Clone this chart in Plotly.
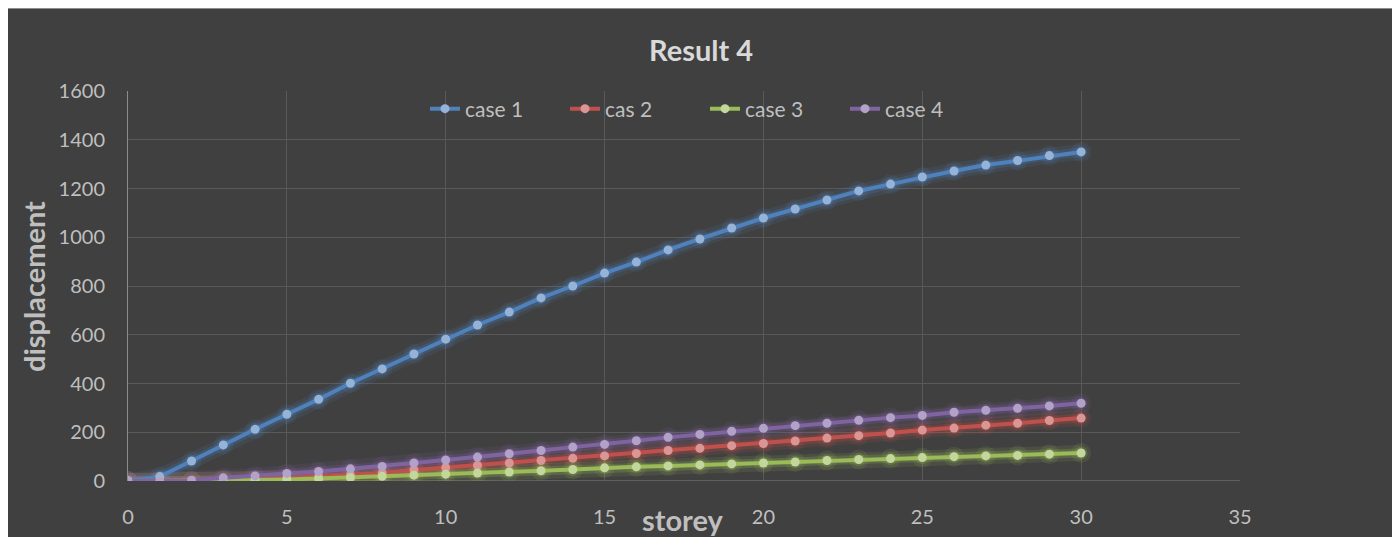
import plotly.graph_objects as go

storey = list(range(0, 31))

case1 = [0, 18, 82, 148, 212, 274, 335, 401, 460, 521, 582, 640, 693, 751, 800, 853,
         898, 948, 993, 1038, 1079, 1116, 1153, 1190, 1218, 1247, 1272, 1296, 1315, 1335, 1350]
case2 = [0, 0, 1, 3, 6, 12, 18, 25, 33, 45, 55, 64, 74, 84, 93, 103,
         113, 125, 134, 145, 154, 164, 176, 186, 197, 209, 217, 229, 237, 248, 258]
case3 = [0, 0, 0, 2, 4, 6, 10, 14, 19, 24, 28, 33, 37, 42, 47, 54,
         58, 62, 66, 70, 74, 78, 84, 88, 92, 96, 100, 103, 105, 110, 115]
case4 = [0, 0, 2, 13, 21, 31, 39, 50, 60, 74, 86, 98, 112, 125, 139, 150,
         165, 179, 191, 204, 216, 227, 237, 249, 260, 269, 282, 290, 298, 308, 319]

names = ["case 1", "cas 2", "case 3", "case 4"]
series = [case1, case2, case3, case4]
line_colors = ["#4F81BD", "#C0504D", "#9BBB59", "#8064A2"]
glow_colors = ["rgba(79,129,189,0.22)", "rgba(192,80,77,0.22)",
               "rgba(155,187,89,0.22)", "rgba(128,100,162,0.22)"]
glow2_colors = ["rgba(79,129,189,0.12)", "rgba(192,80,77,0.12)",
                "rgba(155,187,89,0.12)", "rgba(128,100,162,0.12)"]
marker_colors = ["#95B3D7", "#D99694", "#C3D69B", "#B3A2C7"]

x_ticks = [0, 5, 10, 15, 20, 25, 30, 35]
y_ticks = [0, 200, 400, 600, 800, 1000, 1200, 1400, 1600]

FONT = "Lato, 'Open Sans', sans-serif"
TXT = "#BFBFBF"
BG = "#404040"

fig = go.Figure()

# glow layers
for ys, gc, gc2 in zip(series, glow_colors, glow2_colors):
    fig.add_trace(go.Scatter(
        x=storey, y=ys, mode="lines+markers", showlegend=False, hoverinfo="skip",
        line=dict(color=gc2, width=16),
        marker=dict(size=20, color=gc2),
    ))
    fig.add_trace(go.Scatter(
        x=storey, y=ys, mode="lines+markers", showlegend=False, hoverinfo="skip",
        line=dict(color=gc, width=9),
        marker=dict(size=13, color=gc),
    ))

for name, ys, lc, mc in zip(names, series, line_colors, marker_colors):
    fig.add_trace(go.Scatter(
        x=storey, y=ys, mode="lines+markers", name=name,
        line=dict(color=lc, width=4),
        marker=dict(size=9, color=mc, line=dict(width=0)),
    ))

# page body has an 8px margin: figure coords = reference coords - 8
OFF = 8
W, H = 1400, 537
L, T = 128 - OFF, 91 - OFF
pw, ph = 1112, 390
R = W - L - pw
B = H - T - ph

def px_x(px):
    return (px - OFF - L) / pw

def px_y(py):
    return (T + ph - (py - OFF)) / ph

fig.update_layout(
    width=W, height=H,
    margin=dict(l=L, r=R, t=T, b=B),
    paper_bgcolor="white",
    plot_bgcolor=BG,
    font=dict(family=FONT, color=TXT, size=20),
    showlegend=True,
    legend=dict(
        orientation="h", x=px_x(705), y=px_y(109), xanchor="center", yanchor="middle",
        bgcolor="rgba(0,0,0,0)", font=dict(size=21, color=TXT, family=FONT),
        tracegroupgap=0, entrywidth=95, entrywidthmode="pixels",
    ),
    shapes=[dict(
        type="rect", xref="paper", yref="paper", layer="below",
        x0=px_x(5), x1=px_x(1397), y0=px_y(560), y1=px_y(8),
        fillcolor=BG, line=dict(color="#D9D9D9", width=1),
    )],
    annotations=[
        dict(text="<b>Result 4</b>", xref="paper", yref="paper",
             x=px_x(701), y=px_y(50), xanchor="center", yanchor="middle",
             showarrow=False, font=dict(size=29, color="#D9D9D9", family=FONT)),
        dict(text="<b>displacement</b>", xref="paper", yref="paper",
             x=px_x(33), y=px_y(287), xanchor="center", yanchor="middle", textangle=-90,
             showarrow=False, font=dict(size=29, color=TXT, family=FONT)),
        dict(text="<b>storey</b>", xref="paper", yref="paper",
             x=px_x(683), y=px_y(519), xanchor="center", yanchor="middle",
             showarrow=False, font=dict(size=29, color=TXT, family=FONT)),
    ],
    hovermode=False,
)

fig.update_xaxes(
    range=[0, 35], tickvals=x_ticks, ticktext=[str(v) for v in x_ticks],
    showgrid=True, gridcolor="#595959", gridwidth=1,
    zeroline=False, showline=False,
    ticks="outside", ticklen=18, tickcolor="rgba(0,0,0,0)",
    tickfont=dict(size=20, color=TXT, family=FONT),
    fixedrange=True,
)
fig.update_yaxes(
    range=[0, 1600], tickvals=y_ticks, ticktext=[str(v) for v in y_ticks],
    showgrid=True, gridcolor="#595959", gridwidth=1,
    zeroline=False, showline=True, linecolor="#8C8C8C", linewidth=1,
    ticks="outside", ticklen=18, tickcolor="rgba(0,0,0,0)",
    tickfont=dict(size=20, color=TXT, family=FONT),
    fixedrange=True,
)
# baseline axis line
fig.add_shape(type="line", xref="paper", yref="y", x0=0, x1=1, y0=0, y1=0,
              line=dict(color="#7F7F7F", width=1), layer="below")

fig.write_html("out.html")
